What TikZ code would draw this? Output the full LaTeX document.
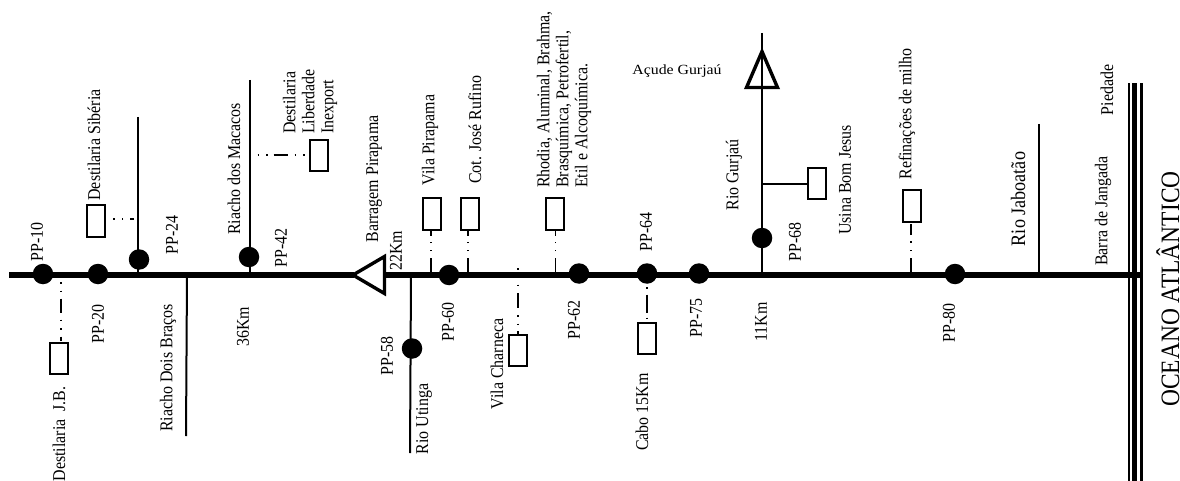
\documentclass[tikz,border=0pt]{standalone}
\usepackage{fontspec}
\setmainfont[FakeStretch=0.885]{Liberation Serif}
\newfontfamily\flatfont[FakeStretch=1.13]{Liberation Serif}
\tikzset{
  x=1pt,y=-1pt,
  lab/.style={inner sep=0pt,rotate=90,font=\fontsize{18}{19}\selectfont},
  labw/.style={lab,anchor=west,align=left},
  hub/.style={circle,fill=black,draw=none,minimum size=20.5pt,inner sep=0pt},
  plant/.style={draw=black,line width=2pt,fill=white,minimum width=18pt,minimum height=31pt,inner sep=0pt},
  trunk/.style={line width=5.5pt},
  river/.style={line width=2pt},
  wire/.style={line width=1.8pt},
  dam/.style={draw=black,line width=3.4pt,fill=none,miter limit=10,line join=miter},
}
\begin{document}
\begin{tikzpicture}
\useasboundingbox (0,0) rectangle (1180,481);
% trunk
\coordinate (w) at (9,275);
\coordinate (e) at (1142,275);
\coordinate (daml) at (385,275);
\coordinate (damtip) at (354,275);
\draw[trunk] (w) -- (damtip);
\draw[trunk] (daml) -- (e);
% coast
\coordinate (c1a) at (1129,83.5); \coordinate (c1b) at (1129,481);
\coordinate (c2a) at (1134.8,83.5); \coordinate (c2b) at (1134.8,481);
\coordinate (c3a) at (1141.5,83.5); \coordinate (c3b) at (1141.5,481);
\draw[line width=2.4pt] (c1a) -- (c1b);
\draw[line width=5pt] (c2a) -- (c2b);
\draw[line width=2.4pt] (c3a) -- (c3b);
% rivers
\coordinate (r1a) at (138,117); \coordinate (r1b) at (138,274);
\coordinate (r2a) at (187,275); \coordinate (r2b) at (186,436);
\coordinate (r3a) at (249.5,80); \coordinate (r3b) at (249.5,274);
\coordinate (r4a) at (411,275); \coordinate (r4b) at (410,453);
\coordinate (r5a) at (762,33); \coordinate (r5b) at (762,274);
\coordinate (r6a) at (1039,124); \coordinate (r6b) at (1039,274);
\foreach \a/\b in {r1a/r1b,r2a/r2b,r3a/r3b,r4a/r4b,r5a/r5b,r6a/r6b}{\draw[river] (\a) -- (\b);}
% dams
\draw[dam] (353,275) -- (384.5,256.5) -- (384.5,293.5) -- cycle;
\draw[dam] (762,51.5) -- (746.5,87.5) -- (777.5,87.5) -- cycle;
% hubs
\node[hub] (p10) at (43,274) {};
\node[hub] (p20) at (98,274) {};
\node[hub] (p24) at (139,259.5) {};
\node[hub] (p42) at (249,257) {};
\node[hub] (p58) at (412,348.5) {};
\node[hub] (p60) at (449,275) {};
\node[hub] (p62) at (579,273.5) {};
\node[hub] (p64) at (647,273.5) {};
\node[hub] (p75) at (699,273.5) {};
\node[hub] (p68) at (762,238) {};
\node[hub] (p80) at (955,274) {};
% plants
\node[plant] (bjb) at (59,358) {};
\node[plant] (bsib) at (96,221) {};
\node[plant] (blib) at (319,156) {};
\node[plant] (bvp) at (431.5,214) {};
\node[plant] (bcot) at (469.5,214) {};
\node[plant] (brho) at (554.5,214) {};
\node[plant] (bcha) at (517.5,350) {};
\node[plant] (bcab) at (647,338) {};
\node[plant] (busi) at (816.5,184) {};
\node[plant] (bref) at (911.5,206) {};
% connectors
\coordinate (tjb) at (61,282);
\draw[wire,dash pattern=on 1.5pt off 7pt on 1.5pt off 6.5pt on 14pt off 7pt on 1.5pt off 7pt on 1.5pt off 7pt on 4pt off 99pt] (tjb) -- (tjb |- bjb.north);
\coordinate (tsib) at (134,219);
\draw[wire,dash pattern=on 4pt off 7pt on 1.5pt off 7pt on 1.5pt off 99pt] (tsib) -- (bsib.east |- tsib);
\coordinate (tlib) at (249,155);
\draw[wire,dash pattern=on 1.5pt off 7pt on 1.5pt off 7pt on 1.5pt off 6pt on 14pt off 7pt on 1.5pt off 7pt on 1.5pt off 99pt] (tlib) -- (blib.west |- tlib);
\coordinate (tvp) at (431,273);
\draw[wire,dash pattern=on 15pt off 7pt on 1.5pt off 6.5pt on 1.5pt off 6pt on 6pt off 99pt] (tvp) -- (tvp |- bvp.south);
\coordinate (tcot) at (468,273);
\draw[wire,dash pattern=on 15pt off 7pt on 1.5pt off 6.5pt on 1.5pt off 6pt on 6pt off 99pt] (tcot) -- (tcot |- bcot.south);
\coordinate (trho) at (555.5,273);
\draw[wire,dash pattern=on 15pt off 7pt on 1.5pt off 6.5pt on 1.5pt off 6pt on 6pt off 99pt] (trho) -- (trho |- brho.south);
\coordinate (tcha) at (518,268);
\draw[wire,dash pattern=on 1.5pt off 5pt on 1pt off 9pt on 1.5pt off 7pt on 15pt off 7pt on 1.5pt off 7pt on 1.5pt off 6pt on 4pt off 99pt] (tcha) -- (tcha |- bcha.north);
\coordinate (tcab) at (647,287);
\draw[wire,dash pattern=on 1.5pt off 6pt on 18pt off 5pt on 1.5pt off 99pt] (tcab) -- (tcab |- bcab.north);
\draw[wire] (r5a |- busi) -- (busi.west);
\coordinate (tref) at (911,273);
\draw[wire,dash pattern=on 15pt off 7pt on 1.5pt off 7pt on 1.5pt off 6pt on 11pt off 99pt] (tref) -- (tref |- bref.south);
% labels
\node[lab] (l10) at (37,242) {PP-10};
\node[lab] (l20) at (98,324) {PP-20};
\node[lab] (lsib) at (94,145) {Destilaria Sibéria};
\node[lab] (l24) at (172,235) {PP-24};
\node[lab] (ldois) at (168,368) {Riacho Dois Braços};
\node[lab] (l36) at (243,327) {36Km};
\node[lab] (lmac) at (234,169) {Riacho dos Macacos};
\node[lab] (l42) at (281,248) {PP-42};
\node[lab] (ljb) at (59,434) {Destilaria\ \ J.B.};
\node[labw] (llib) at (310,134) {Destilaria\\Liberdade\\Inexport};
\node[lab] (lbar) at (374,179) {Barragem Pirapama};
\node[lab] (l22) at (396,251) {22Km};
\node[lab] (l58) at (387,356) {PP-58};
\node[lab] (luti) at (424,419) {Rio Utinga};
\node[lab] (l60) at (448,322) {PP-60};
\node[lab] (lvp) at (430,140) {Vila Pirapama};
\node[lab] (lcot) at (475,130) {Cot. José Rufino};
\node[lab] (lcha) at (497,364) {Vila Charneca};
\node[labw] (lrho) at (564,188) {Rhodia, Aluminal, Brahma,\\Brasquímica, Petrofertil,\\Etil e Alcoquímica.};
\node[lab] (l62) at (574,320) {PP-62};
\node[lab] (l64) at (646,232) {PP-64};
\node[lab] (l75) at (696,318) {PP-75};
\node[lab] (lcab) at (642,412) {Cabo 15Km};
\node[inner sep=0pt,font=\flatfont\fontsize{14}{17}\selectfont] (lacu) at (677,71) {Açude Gurjaú};
\node[lab] (lgur) at (734,175) {Rio Gurjaú};
\node[lab] (l68) at (795,242) {PP-68};
\node[lab] (lusi) at (845,180) {Usina Bom Jesus};
\node[lab] (l11) at (761,322) {11Km};
\node[lab] (lref) at (907,114) {Refinações de milho};
\node[lab] (l80) at (949,323) {PP-80};
\node[lab,font=\fontsize{20.5}{22}\selectfont] (ljab) at (1018,199) {Rio Jaboatão};
\node[lab] (lbarra) at (1103,211) {Barra de Jangada};
\node[lab] (lpie) at (1107,90) {Piedade};
\node[lab,anchor=base,font=\fontsize{26.5}{28}\selectfont] (loc) at (1179,289) {OCEANO ATLÂNTICO};
\end{tikzpicture}
\end{document}
